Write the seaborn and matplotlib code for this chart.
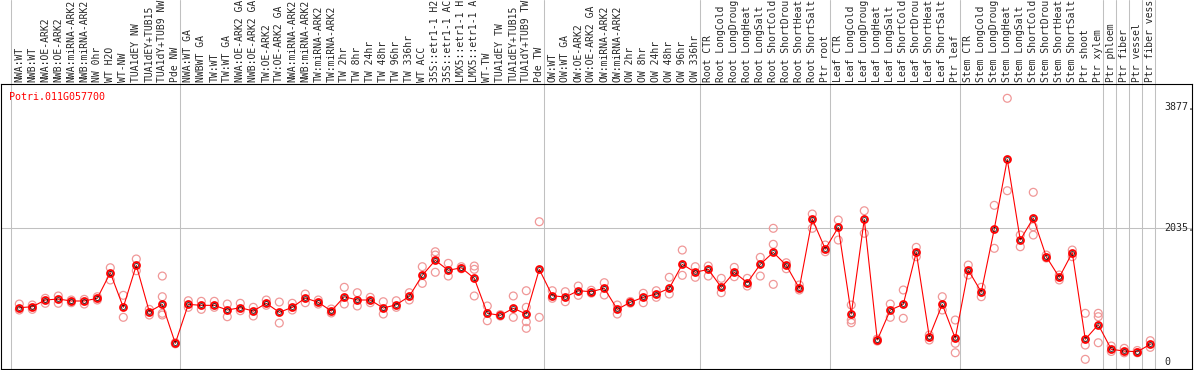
import numpy as np
import pandas as pd
import matplotlib
matplotlib.use("Agg")
import matplotlib.pyplot as plt
import matplotlib.transforms as mtrans
import seaborn as sns

gene = "Potri.011G057700"

# sample labels (as far as they show in the header), one list per tissue block
labels_nw = ["NWA:WT", "NWB:WT", "NWA:OE-ARK2", "NWB:OE-ARK2", "NWA:miRNA-ARK2",
             "NWB:miRNA-ARK2", "NW 0hr", "WT H2O", "WT-NW", "TUA1dEY NW",
             "TUA1dEY+TUB15", "TUA1dY+TUB9 NW", "Pde NW"]
labels_tw = ["NWA:WT GA", "NWBWT GA", "TW:WT", "TW:WT GA", "NWA:OE-ARK2 GA",
             "NWB:OE-ARK2 GA", "TW:OE-ARK2", "TW:OE-ARK2 GA", "NWA:miRNA-ARK2",
             "NWB:miRNA-ARK2", "TW:miRNA-ARK2", "TW:miRNA-ARK2", "TW 2hr",
             "TW 8hr", "TW 24hr", "TW 48hr", "TW 96hr", "TW 336hr", "WT ACC",
             "35S::etr1-1 H2", "35S::etr1-1 AC", "LMX5::etr1-1 H",
             "LMX5::etr1-1 A", "WT-TW", "TUA1dEY TW", "TUA1dEY+TUB15",
             "TUA1dY+TUB9 TW", "Pde TW"]
labels_ow = ["OW:WT", "OW:WT GA", "OW:OE-ARK2", "OW:OE-ARK2 GA", "OW:miRNA-ARK2",
             "OW:miRNA-ARK2", "OW 2hr", "OW 8hr", "OW 24hr", "OW 48hr",
             "OW 96hr", "OW 336hr"]
labels_root = ["Root CTR", "Root LongCold", "Root LongDroug", "Root LongHeat",
               "Root LongSalt", "Root ShortCold", "Root ShortDrou",
               "Root ShortHeat", "Root ShortSalt", "Ptr root"]
labels_leaf = ["Leaf CTR", "Leaf LongCold", "Leaf LongDroug", "Leaf LongHeat",
               "Leaf LongSalt", "Leaf ShortCold", "Leaf ShortDrou",
               "Leaf ShortHeat", "Leaf ShortSalt", "Ptr leaf"]
labels_stem = ["Stem CTR", "Stem LongCold", "Stem LongDroug", "Stem LongHeat",
               "Stem LongSalt", "Stem ShortCold", "Stem ShortDrou",
               "Stem ShortHeat", "Stem ShortSalt", "Ptr shoot", "Ptr xylem"]
labels_ptr = [["Ptr phloem"], ["Ptr fiber"], ["Ptr vessel"], ["Ptr fiber vess"]]

groups = [labels_nw, labels_tw, labels_ow, labels_root, labels_leaf, labels_stem] + labels_ptr

# mean expression per sample
means = [825, 840, 942, 957, 927, 927, 968, 1356, 831, 1469, 764, 876, 284,
         876, 861, 861, 790, 825, 775, 892, 755, 831, 972, 907, 775, 992, 942,
         942, 820, 870, 998, 1317, 1545, 1393, 1432, 1271, 740, 709, 816, 729, 1408,
         1007, 987, 1083, 1068, 1120, 800, 907, 983, 1033, 1120, 1484, 1363,
         1408, 1135, 1363, 1205, 1484, 1666, 1469, 1120, 2172, 1716,
         2046, 729, 2168, 334, 790, 876, 1666, 384, 876, 360,
         1397, 1063, 2020, 3079, 1853, 2187, 1600, 1287, 1660, 345, 567,
         193, 167, 156, 269]

# replicate values per sample
reps = [[881, 790], [866, 800], [968, 892], [1003, 892], [942, 901], [952, 881],
        [992, 942], [1432, 1246], [1013, 679], [1565, 1387], [800, 714],
        [1306, 992, 714, 740], [293, 276],
        [931, 831], [922, 800], [922, 831], [881, 688], [892, 779], [831, 699],
        [942, 862], [911, 592], [892, 790], [1033, 901], [942, 880], [805, 745],
        [1135, 881], [1053, 851], [983, 901], [916, 729], [931, 831], [1053, 942],
        [1448, 1195], [1675, 1625, 1363], [1499, 1306], [1448, 1416],
        [1458, 1408, 1003], [851, 627], [720, 698], [1003, 679],
        [1083, 831, 612, 512], [2131, 679],
        [1083, 968], [1068, 916], [1154, 1013], [1090, 1046], [1205, 1018],
        [866, 729], [920, 894], [1044, 901], [1083, 983], [1287, 1033],
        [1701, 1317], [1448, 1287],
        [1458, 1306], [1271, 1053], [1438, 1296], [1271, 1154], [1590, 1306],
        [2031, 1788, 1180], [1508, 1417], [1170, 1094], [2248, 2031], [1777, 1675],
        [2157, 1853], [866, 638, 597], [2298, 1955], [350, 318], [881, 679],
        [1094, 664], [1742, 1600], [410, 334], [992, 790], [638, 284, 141],
        [1473, 1322], [1135, 992], [2380, 1727], [4006, 2602], [1929, 1751],
        [2578, 2055, 1929], [1625, 1580], [1322, 1246], [1701, 1600],
        [740, 258, 41], [740, 688, 293],
        [243, 160], [208, 140], [175, 140], [324, 223]]

ytick_vals = [0, 2035, 3877]
ytick_text = ["0", "2035.", "3877."]

labels = [l for g in groups for l in g]
pos = np.arange(len(labels))
starts = np.cumsum([0] + [len(g) for g in groups])

mean_df = pd.DataFrame({"pos": pos, "value": means})
rep_df = pd.DataFrame([(i, v) for i, r in enumerate(reps) for v in r],
                      columns=["pos", "value"])

sns.set_style("white")
plt.rcParams["font.family"] = ["DejaVu Sans Mono"]
plt.rcParams["font.size"] = 7.2

W, H = 1194, 370
fig = plt.figure(figsize=(W / 100, H / 100), dpi=100)
ax = fig.add_axes([1 / W, 1 / H, 1191 / W, 285 / H])
axl = fig.add_axes([1 / W, 286 / H, 1191 / W, 84 / H], sharex=ax)

grey = "#c0c0c0"
for s in starts:
    ax.axvline(s - 0.64, color=grey, lw=0.75, zorder=0.5)
    axl.axvline(s - 0.64, color=grey, lw=0.75, zorder=0.5)
ax.axhline(2035, color=grey, lw=0.75, zorder=0.5)

sns.scatterplot(data=rep_df, x="pos", y="value", ax=ax, marker="o", s=32,
                facecolor="none", edgecolor="#f09898", linewidth=0.9, zorder=2)
sns.lineplot(data=mean_df, x="pos", y="value", ax=ax, color="red", lw=0.8,
             errorbar=None, marker="o", markersize=5, markerfacecolor="none",
             markeredgecolor="red", markeredgewidth=1.3, zorder=3)
ax.plot(pos, means, "o", ms=2.8, mfc="none", mec="black", mew=0.5, zorder=4)

ax.set_xlim(-1.408, 90.21)
ax.set_ylim(-106, 4223)
ax.set_xticks([])
ax.set_yticks([])
ax.set_xlabel("")
ax.set_ylabel("")
for sp in ax.spines.values():
    sp.set_color("black")
    sp.set_linewidth(0.8)

axl.set_ylim(0, 84)
axl.axis("off")
for i, lab in enumerate(labels):
    axl.text(i, 1.5, lab, rotation=90, ha="center", va="bottom", fontsize=7.0,
             clip_on=False)

tr = mtrans.blended_transform_factory(ax.transAxes, ax.transData)
for v, t in zip(ytick_vals, ytick_text):
    ax.text(0.9765, v, t, transform=tr, ha="left", va="center")

ax.text(0.0071, 0.954, gene, transform=ax.transAxes, color="red",
        ha="left", va="center")

fig.savefig("out.png", dpi=100)
